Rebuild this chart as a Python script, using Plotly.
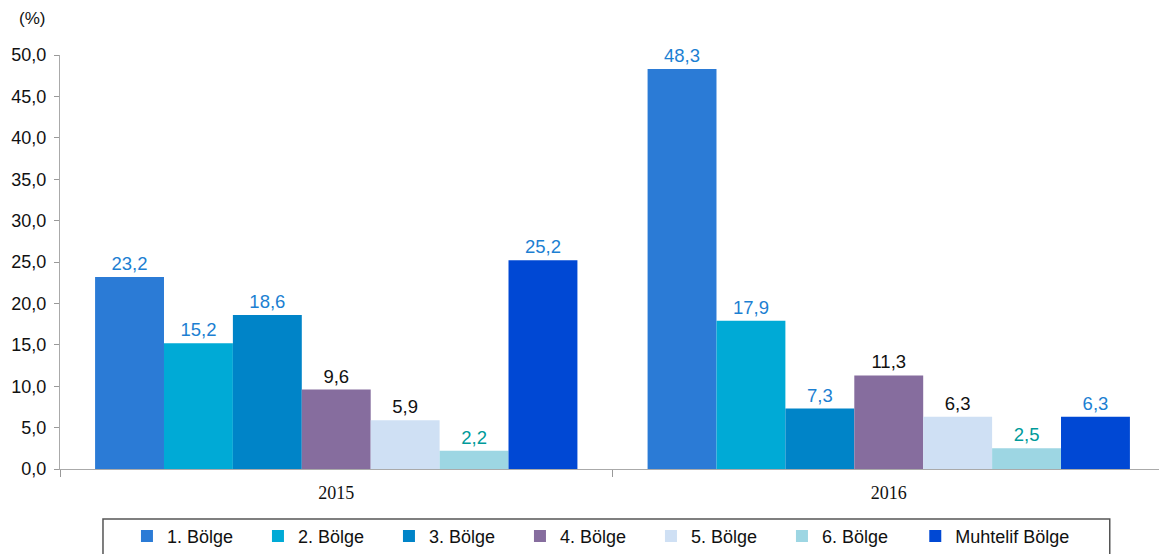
import plotly.graph_objects as go

years = ["2015", "2016"]
series = ["1. Bölge", "2. Bölge", "3. Bölge", "4. Bölge", "5. Bölge", "6. Bölge", "Muhtelif Bölge"]
values = [
    [23.2, 48.3],
    [15.2, 17.9],
    [18.6, 7.3],
    [9.6, 11.3],
    [5.9, 6.3],
    [2.2, 2.5],
    [25.2, 6.3],
]
colors = ["#2B7BD6", "#00AAD6", "#0084C8", "#866D9E", "#CFE0F4", "#9DD6E3", "#0048D4"]
label_colors = ["#1C7FD2", "#1C7FD2", "#1C7FD2", "#111111", "#111111", "#009A9A", "#1C7FD2"]
y_ticks = [0, 5, 10, 15, 20, 25, 30, 35, 40, 45, 50]

fig = go.Figure()
for i, (name, vals, c, lc) in enumerate(zip(series, values, colors, label_colors)):
    fig.add_trace(go.Bar(
        x=years, y=vals, name=name,
        marker=dict(color=c, line=dict(width=0)),
        texttemplate="%{y:.1f}", textposition="outside",
        textfont=dict(family="Liberation Sans, Arial", size=18.5, color=lc),
        cliponaxis=False,
        legend="legend2" if i == len(series) - 1 else "legend",
    ))

legend_font = dict(family="Liberation Sans, Arial", size=18, color="#111111")

fig.update_layout(
    width=1159, height=546,
    barmode="group", bargap=0.127, bargroupgap=0,
    separators=",.",
    plot_bgcolor="white", paper_bgcolor="white",
    margin=dict(l=52, r=2, t=47, b=85, autoexpand=False),
    font=dict(family="Liberation Sans, Arial", size=18, color="#111111"),
    xaxis=dict(
        type="category", tickson="boundaries", ticks="outside", ticklen=7,
        tickcolor="#999999", showline=True, linecolor="#AAAAAA", linewidth=1,
        tickfont=dict(family="Liberation Serif, Times New Roman", size=18, color="#111111"),
        showgrid=False, automargin=False, ticklabelstandoff=7,
    ),
    yaxis=dict(
        range=[0, 50], tickvals=y_ticks, tickformat=".1f", ticks="outside", ticklen=5,
        tickcolor="#999999", showline=True, linecolor="#AAAAAA", linewidth=1,
        showgrid=False, zeroline=False, automargin=False, ticklabelstandoff=4,
        tickfont=dict(family="Liberation Sans, Arial", size=18, color="#111111"),
    ),
    legend=dict(
        orientation="h", x=0.0606, xanchor="left", y=-0.118, yanchor="top",
        borderwidth=0, bgcolor="rgba(0,0,0,0)", font=legend_font,
        entrywidth=86, entrywidthmode="pixels", itemwidth=30,
    ),
    legend2=dict(
        orientation="h", x=0.774, xanchor="left", y=-0.118, yanchor="top",
        borderwidth=0, bgcolor="rgba(0,0,0,0)", font=legend_font, itemwidth=30,
    ),
    shapes=[dict(
        type="rect", xref="paper", yref="paper", x0=0.0389, x1=0.950, y0=-0.121, y1=-0.3,
        line=dict(color="#555555", width=1.5), fillcolor="rgba(0,0,0,0)", layer="below",
    )],
    annotations=[dict(
        text="(%)", xref="paper", yref="paper", x=-0.039, y=1.089,
        xanchor="left", yanchor="middle", showarrow=False,
        font=dict(family="Liberation Sans, Arial", size=17, color="#111111"),
    )],
)

fig.write_html("out.html")
